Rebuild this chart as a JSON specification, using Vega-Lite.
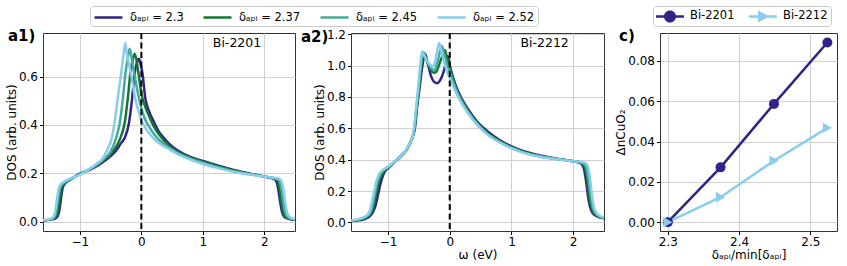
{
"$schema": "https://vega.github.io/schema/vega-lite/v6.json",
"padding": {"left": 4, "top": 5, "right": 5, "bottom": 3},
"config": {
 "font": "DejaVu Sans",
 "view": {"stroke": "#333333", "strokeWidth": 1},
 "axis": {"labelFont": "DejaVu Sans", "labelFontSize": 12, "labelColor": "#000", "tickColor": "#000", "tickSize": 3.5, "tickWidth": 1, "labelPadding": 2, "domain": false, "grid": true, "gridColor": "#d0d0d0", "gridWidth": 1, "titleFont": "DejaVu Sans", "titleFontSize": 12, "titleFontWeight": "normal", "titleColor": "#000", "titlePadding": 0},
 "axisX": {"titlePadding": 2},
 "legend": {"labelFont": "DejaVu Sans", "labelFontSize": 11.5, "labelColor": "#000", "strokeColor": "#cccccc", "fillColor": "#ffffff", "cornerRadius": 3, "padding": 3, "columnPadding": 14, "labelOffset": 20},
 "title": {"font": "DejaVu Sans", "fontSize": 15, "fontWeight": "bold", "color": "#000"}
},
"datasets": {
 "a1": [
  {"s":"2.3","w":-1.6,"v":0.005},{"s":"2.3","w":-1.5,"v":0.008},{"s":"2.3","w":-1.42,"v":0.012},{"s":"2.3","w":-1.37,"v":0.02},{"s":"2.3","w":-1.34,"v":0.04},{"s":"2.3","w":-1.32,"v":0.07},{"s":"2.3","w":-1.3,"v":0.11},{"s":"2.3","w":-1.28,"v":0.14},{"s":"2.3","w":-1.25,"v":0.156},{"s":"2.3","w":-1.2,"v":0.168},{"s":"2.3","w":-1.1,"v":0.184},{"s":"2.3","w":-1.0,"v":0.199},{"s":"2.3","w":-0.9,"v":0.209},{"s":"2.3","w":-0.8,"v":0.22},{"s":"2.3","w":-0.7,"v":0.234},{"s":"2.3","w":-0.6,"v":0.251},{"s":"2.3","w":-0.5,"v":0.271},{"s":"2.3","w":-0.4,"v":0.298},{"s":"2.3","w":-0.33,"v":0.325},{"s":"2.3","w":-0.27,"v":0.347},{"s":"2.3","w":-0.2,"v":0.41},{"s":"2.3","w":-0.15,"v":0.51},{"s":"2.3","w":-0.11,"v":0.61},{"s":"2.3","w":-0.07,"v":0.66},{"s":"2.3","w":-0.04,"v":0.674},{"s":"2.3","w":-0.01,"v":0.65},{"s":"2.3","w":0.02,"v":0.61},{"s":"2.3","w":0.065,"v":0.51},{"s":"2.3","w":0.12,"v":0.46},{"s":"2.3","w":0.2,"v":0.415},{"s":"2.3","w":0.28,"v":0.375},{"s":"2.3","w":0.365,"v":0.347},{"s":"2.3","w":0.45,"v":0.323},{"s":"2.3","w":0.6,"v":0.293},{"s":"2.3","w":0.8,"v":0.268},{"s":"2.3","w":1.0,"v":0.251},{"s":"2.3","w":1.2,"v":0.236},{"s":"2.3","w":1.5,"v":0.214},{"s":"2.3","w":1.8,"v":0.197},{"s":"2.3","w":2.0,"v":0.187},{"s":"2.3","w":2.1,"v":0.182},{"s":"2.3","w":2.16,"v":0.177},{"s":"2.3","w":2.2,"v":0.165},{"s":"2.3","w":2.23,"v":0.13},{"s":"2.3","w":2.26,"v":0.08},{"s":"2.3","w":2.29,"v":0.04},{"s":"2.3","w":2.33,"v":0.02},{"s":"2.3","w":2.4,"v":0.012},{"s":"2.3","w":2.5,"v":0.007},
  {"s":"2.37","w":-1.6,"v":0.005},{"s":"2.37","w":-1.5,"v":0.009},{"s":"2.37","w":-1.44,"v":0.013},{"s":"2.37","w":-1.39,"v":0.02},{"s":"2.37","w":-1.36,"v":0.04},{"s":"2.37","w":-1.34,"v":0.07},{"s":"2.37","w":-1.32,"v":0.105},{"s":"2.37","w":-1.3,"v":0.135},{"s":"2.37","w":-1.27,"v":0.152},{"s":"2.37","w":-1.22,"v":0.164},{"s":"2.37","w":-1.1,"v":0.183},{"s":"2.37","w":-1.0,"v":0.197},{"s":"2.37","w":-0.9,"v":0.209},{"s":"2.37","w":-0.8,"v":0.222},{"s":"2.37","w":-0.7,"v":0.238},{"s":"2.37","w":-0.6,"v":0.256},{"s":"2.37","w":-0.5,"v":0.279},{"s":"2.37","w":-0.42,"v":0.305},{"s":"2.37","w":-0.34,"v":0.347},{"s":"2.37","w":-0.27,"v":0.41},{"s":"2.37","w":-0.22,"v":0.51},{"s":"2.37","w":-0.18,"v":0.61},{"s":"2.37","w":-0.14,"v":0.67},{"s":"2.37","w":-0.11,"v":0.694},{"s":"2.37","w":-0.08,"v":0.67},{"s":"2.37","w":-0.05,"v":0.62},{"s":"2.37","w":0.0,"v":0.53},{"s":"2.37","w":0.05,"v":0.485},{"s":"2.37","w":0.12,"v":0.44},{"s":"2.37","w":0.2,"v":0.395},{"s":"2.37","w":0.3,"v":0.357},{"s":"2.37","w":0.45,"v":0.315},{"s":"2.37","w":0.6,"v":0.288},{"s":"2.37","w":0.8,"v":0.265},{"s":"2.37","w":1.0,"v":0.248},{"s":"2.37","w":1.2,"v":0.233},{"s":"2.37","w":1.5,"v":0.212},{"s":"2.37","w":1.8,"v":0.196},{"s":"2.37","w":2.0,"v":0.187},{"s":"2.37","w":2.1,"v":0.182},{"s":"2.37","w":2.18,"v":0.177},{"s":"2.37","w":2.22,"v":0.165},{"s":"2.37","w":2.25,"v":0.13},{"s":"2.37","w":2.28,"v":0.08},{"s":"2.37","w":2.31,"v":0.04},{"s":"2.37","w":2.35,"v":0.02},{"s":"2.37","w":2.42,"v":0.012},{"s":"2.37","w":2.5,"v":0.008},
  {"s":"2.45","w":-1.6,"v":0.006},{"s":"2.45","w":-1.5,"v":0.009},{"s":"2.45","w":-1.45,"v":0.013},{"s":"2.45","w":-1.41,"v":0.022},{"s":"2.45","w":-1.39,"v":0.04},{"s":"2.45","w":-1.37,"v":0.07},{"s":"2.45","w":-1.35,"v":0.105},{"s":"2.45","w":-1.33,"v":0.135},{"s":"2.45","w":-1.3,"v":0.152},{"s":"2.45","w":-1.25,"v":0.163},{"s":"2.45","w":-1.2,"v":0.171},{"s":"2.45","w":-1.1,"v":0.184},{"s":"2.45","w":-1.0,"v":0.196},{"s":"2.45","w":-0.9,"v":0.21},{"s":"2.45","w":-0.8,"v":0.224},{"s":"2.45","w":-0.7,"v":0.241},{"s":"2.45","w":-0.6,"v":0.262},{"s":"2.45","w":-0.5,"v":0.29},{"s":"2.45","w":-0.41,"v":0.347},{"s":"2.45","w":-0.35,"v":0.41},{"s":"2.45","w":-0.3,"v":0.51},{"s":"2.45","w":-0.26,"v":0.61},{"s":"2.45","w":-0.22,"v":0.68},{"s":"2.45","w":-0.19,"v":0.715},{"s":"2.45","w":-0.16,"v":0.68},{"s":"2.45","w":-0.12,"v":0.62},{"s":"2.45","w":-0.07,"v":0.55},{"s":"2.45","w":-0.02,"v":0.49},{"s":"2.45","w":0.05,"v":0.43},{"s":"2.45","w":0.12,"v":0.395},{"s":"2.45","w":0.2,"v":0.365},{"s":"2.45","w":0.3,"v":0.335},{"s":"2.45","w":0.45,"v":0.307},{"s":"2.45","w":0.6,"v":0.283},{"s":"2.45","w":0.8,"v":0.261},{"s":"2.45","w":1.0,"v":0.244},{"s":"2.45","w":1.2,"v":0.229},{"s":"2.45","w":1.5,"v":0.209},{"s":"2.45","w":1.8,"v":0.195},{"s":"2.45","w":2.0,"v":0.187},{"s":"2.45","w":2.12,"v":0.182},{"s":"2.45","w":2.2,"v":0.178},{"s":"2.45","w":2.25,"v":0.168},{"s":"2.45","w":2.28,"v":0.135},{"s":"2.45","w":2.31,"v":0.08},{"s":"2.45","w":2.34,"v":0.04},{"s":"2.45","w":2.38,"v":0.02},{"s":"2.45","w":2.45,"v":0.012},{"s":"2.45","w":2.5,"v":0.009},
  {"s":"2.52","w":-1.6,"v":0.006},{"s":"2.52","w":-1.5,"v":0.01},{"s":"2.52","w":-1.45,"v":0.015},{"s":"2.52","w":-1.42,"v":0.025},{"s":"2.52","w":-1.4,"v":0.045},{"s":"2.52","w":-1.38,"v":0.08},{"s":"2.52","w":-1.36,"v":0.115},{"s":"2.52","w":-1.34,"v":0.14},{"s":"2.52","w":-1.31,"v":0.155},{"s":"2.52","w":-1.26,"v":0.165},{"s":"2.52","w":-1.2,"v":0.173},{"s":"2.52","w":-1.1,"v":0.184},{"s":"2.52","w":-1.0,"v":0.195},{"s":"2.52","w":-0.9,"v":0.21},{"s":"2.52","w":-0.8,"v":0.226},{"s":"2.52","w":-0.7,"v":0.245},{"s":"2.52","w":-0.64,"v":0.258},{"s":"2.52","w":-0.56,"v":0.295},{"s":"2.52","w":-0.48,"v":0.347},{"s":"2.52","w":-0.43,"v":0.42},{"s":"2.52","w":-0.385,"v":0.51},{"s":"2.52","w":-0.33,"v":0.61},{"s":"2.52","w":-0.29,"v":0.69},{"s":"2.52","w":-0.26,"v":0.74},{"s":"2.52","w":-0.24,"v":0.7},{"s":"2.52","w":-0.2,"v":0.65},{"s":"2.52","w":-0.16,"v":0.6},{"s":"2.52","w":-0.1,"v":0.51},{"s":"2.52","w":-0.05,"v":0.46},{"s":"2.52","w":0.0,"v":0.42},{"s":"2.52","w":0.1,"v":0.375},{"s":"2.52","w":0.2,"v":0.345},{"s":"2.52","w":0.3,"v":0.322},{"s":"2.52","w":0.45,"v":0.3},{"s":"2.52","w":0.6,"v":0.279},{"s":"2.52","w":0.8,"v":0.257},{"s":"2.52","w":1.0,"v":0.239},{"s":"2.52","w":1.2,"v":0.225},{"s":"2.52","w":1.5,"v":0.207},{"s":"2.52","w":1.8,"v":0.194},{"s":"2.52","w":2.0,"v":0.187},{"s":"2.52","w":2.15,"v":0.182},{"s":"2.52","w":2.24,"v":0.178},{"s":"2.52","w":2.28,"v":0.168},{"s":"2.52","w":2.31,"v":0.135},{"s":"2.52","w":2.34,"v":0.08},{"s":"2.52","w":2.37,"v":0.04},{"s":"2.52","w":2.41,"v":0.02},{"s":"2.52","w":2.46,"v":0.013},{"s":"2.52","w":2.5,"v":0.01}
 ],
 "a2": [
  {"s":"2.3","w":-1.6,"v":0.008},{"s":"2.3","w":-1.5,"v":0.012},{"s":"2.3","w":-1.4,"v":0.018},{"s":"2.3","w":-1.33,"v":0.03},{"s":"2.3","w":-1.28,"v":0.045},{"s":"2.3","w":-1.24,"v":0.07},{"s":"2.3","w":-1.2,"v":0.11},{"s":"2.3","w":-1.16,"v":0.18},{"s":"2.3","w":-1.12,"v":0.25},{"s":"2.3","w":-1.08,"v":0.3},{"s":"2.3","w":-1.04,"v":0.33},{"s":"2.3","w":-1.0,"v":0.345},{"s":"2.3","w":-0.9,"v":0.382},{"s":"2.3","w":-0.85,"v":0.4},{"s":"2.3","w":-0.8,"v":0.42},{"s":"2.3","w":-0.7,"v":0.462},{"s":"2.3","w":-0.65,"v":0.498},{"s":"2.3","w":-0.6,"v":0.545},{"s":"2.3","w":-0.565,"v":0.6},{"s":"2.3","w":-0.525,"v":0.75},{"s":"2.3","w":-0.485,"v":0.87},{"s":"2.3","w":-0.45,"v":0.98},{"s":"2.3","w":-0.4,"v":1.075},{"s":"2.3","w":-0.36,"v":1.02},{"s":"2.3","w":-0.3,"v":0.93},{"s":"2.3","w":-0.25,"v":0.895},{"s":"2.3","w":-0.2,"v":0.888},{"s":"2.3","w":-0.15,"v":0.91},{"s":"2.3","w":-0.1,"v":0.96},{"s":"2.3","w":-0.06,"v":1.02},{"s":"2.3","w":-0.03,"v":1.06},{"s":"2.3","w":0.0,"v":1.0},{"s":"2.3","w":0.05,"v":0.93},{"s":"2.3","w":0.1,"v":0.87},{"s":"2.3","w":0.2,"v":0.785},{"s":"2.3","w":0.3,"v":0.72},{"s":"2.3","w":0.45,"v":0.64},{"s":"2.3","w":0.6,"v":0.585},{"s":"2.3","w":0.8,"v":0.527},{"s":"2.3","w":1.0,"v":0.485},{"s":"2.3","w":1.2,"v":0.454},{"s":"2.3","w":1.5,"v":0.423},{"s":"2.3","w":1.8,"v":0.402},{"s":"2.3","w":2.0,"v":0.39},{"s":"2.3","w":2.1,"v":0.381},{"s":"2.3","w":2.14,"v":0.37},{"s":"2.3","w":2.18,"v":0.335},{"s":"2.3","w":2.21,"v":0.26},{"s":"2.3","w":2.24,"v":0.17},{"s":"2.3","w":2.27,"v":0.105},{"s":"2.3","w":2.31,"v":0.062},{"s":"2.3","w":2.38,"v":0.04},{"s":"2.3","w":2.45,"v":0.03},{"s":"2.3","w":2.5,"v":0.025},
  {"s":"2.37","w":-1.6,"v":0.01},{"s":"2.37","w":-1.5,"v":0.015},{"s":"2.37","w":-1.41,"v":0.022},{"s":"2.37","w":-1.34,"v":0.035},{"s":"2.37","w":-1.29,"v":0.05},{"s":"2.37","w":-1.25,"v":0.08},{"s":"2.37","w":-1.22,"v":0.125},{"s":"2.37","w":-1.19,"v":0.185},{"s":"2.37","w":-1.15,"v":0.255},{"s":"2.37","w":-1.1,"v":0.305},{"s":"2.37","w":-1.05,"v":0.333},{"s":"2.37","w":-1.0,"v":0.35},{"s":"2.37","w":-0.9,"v":0.384},{"s":"2.37","w":-0.85,"v":0.401},{"s":"2.37","w":-0.8,"v":0.42},{"s":"2.37","w":-0.7,"v":0.463},{"s":"2.37","w":-0.65,"v":0.5},{"s":"2.37","w":-0.6,"v":0.547},{"s":"2.37","w":-0.57,"v":0.6},{"s":"2.37","w":-0.53,"v":0.75},{"s":"2.37","w":-0.49,"v":0.87},{"s":"2.37","w":-0.46,"v":0.99},{"s":"2.37","w":-0.42,"v":1.08},{"s":"2.37","w":-0.38,"v":1.04},{"s":"2.37","w":-0.32,"v":0.98},{"s":"2.37","w":-0.26,"v":0.955},{"s":"2.37","w":-0.22,"v":0.96},{"s":"2.37","w":-0.16,"v":1.02},{"s":"2.37","w":-0.1,"v":1.08},{"s":"2.37","w":-0.08,"v":1.1},{"s":"2.37","w":-0.05,"v":1.06},{"s":"2.37","w":0.0,"v":0.99},{"s":"2.37","w":0.1,"v":0.86},{"s":"2.37","w":0.2,"v":0.775},{"s":"2.37","w":0.3,"v":0.71},{"s":"2.37","w":0.45,"v":0.633},{"s":"2.37","w":0.6,"v":0.575},{"s":"2.37","w":0.8,"v":0.52},{"s":"2.37","w":1.0,"v":0.48},{"s":"2.37","w":1.2,"v":0.449},{"s":"2.37","w":1.5,"v":0.42},{"s":"2.37","w":1.8,"v":0.401},{"s":"2.37","w":2.0,"v":0.39},{"s":"2.37","w":2.11,"v":0.382},{"s":"2.37","w":2.16,"v":0.37},{"s":"2.37","w":2.2,"v":0.335},{"s":"2.37","w":2.23,"v":0.26},{"s":"2.37","w":2.26,"v":0.17},{"s":"2.37","w":2.29,"v":0.105},{"s":"2.37","w":2.33,"v":0.062},{"s":"2.37","w":2.4,"v":0.04},{"s":"2.37","w":2.5,"v":0.027},
  {"s":"2.45","w":-1.6,"v":0.011},{"s":"2.45","w":-1.5,"v":0.016},{"s":"2.45","w":-1.42,"v":0.025},{"s":"2.45","w":-1.35,"v":0.038},{"s":"2.45","w":-1.3,"v":0.055},{"s":"2.45","w":-1.27,"v":0.08},{"s":"2.45","w":-1.24,"v":0.13},{"s":"2.45","w":-1.21,"v":0.19},{"s":"2.45","w":-1.17,"v":0.26},{"s":"2.45","w":-1.12,"v":0.31},{"s":"2.45","w":-1.06,"v":0.335},{"s":"2.45","w":-1.0,"v":0.352},{"s":"2.45","w":-0.9,"v":0.384},{"s":"2.45","w":-0.85,"v":0.401},{"s":"2.45","w":-0.8,"v":0.42},{"s":"2.45","w":-0.7,"v":0.464},{"s":"2.45","w":-0.65,"v":0.5},{"s":"2.45","w":-0.6,"v":0.548},{"s":"2.45","w":-0.575,"v":0.6},{"s":"2.45","w":-0.535,"v":0.75},{"s":"2.45","w":-0.5,"v":0.87},{"s":"2.45","w":-0.47,"v":0.99},{"s":"2.45","w":-0.43,"v":1.085},{"s":"2.45","w":-0.39,"v":1.05},{"s":"2.45","w":-0.33,"v":1.0},{"s":"2.45","w":-0.28,"v":0.975},{"s":"2.45","w":-0.25,"v":0.97},{"s":"2.45","w":-0.2,"v":1.02},{"s":"2.45","w":-0.15,"v":1.1},{"s":"2.45","w":-0.13,"v":1.125},{"s":"2.45","w":-0.1,"v":1.09},{"s":"2.45","w":-0.05,"v":1.02},{"s":"2.45","w":0.0,"v":0.96},{"s":"2.45","w":0.1,"v":0.85},{"s":"2.45","w":0.2,"v":0.768},{"s":"2.45","w":0.3,"v":0.703},{"s":"2.45","w":0.45,"v":0.627},{"s":"2.45","w":0.6,"v":0.569},{"s":"2.45","w":0.8,"v":0.516},{"s":"2.45","w":1.0,"v":0.476},{"s":"2.45","w":1.2,"v":0.446},{"s":"2.45","w":1.5,"v":0.418},{"s":"2.45","w":1.8,"v":0.401},{"s":"2.45","w":2.0,"v":0.39},{"s":"2.45","w":2.13,"v":0.382},{"s":"2.45","w":2.18,"v":0.372},{"s":"2.45","w":2.22,"v":0.34},{"s":"2.45","w":2.25,"v":0.27},{"s":"2.45","w":2.28,"v":0.18},{"s":"2.45","w":2.31,"v":0.11},{"s":"2.45","w":2.35,"v":0.065},{"s":"2.45","w":2.42,"v":0.04},{"s":"2.45","w":2.5,"v":0.028},
  {"s":"2.52","w":-1.6,"v":0.012},{"s":"2.52","w":-1.5,"v":0.018},{"s":"2.52","w":-1.42,"v":0.028},{"s":"2.52","w":-1.36,"v":0.04},{"s":"2.52","w":-1.32,"v":0.055},{"s":"2.52","w":-1.29,"v":0.08},{"s":"2.52","w":-1.26,"v":0.13},{"s":"2.52","w":-1.23,"v":0.19},{"s":"2.52","w":-1.19,"v":0.26},{"s":"2.52","w":-1.14,"v":0.31},{"s":"2.52","w":-1.08,"v":0.335},{"s":"2.52","w":-1.0,"v":0.355},{"s":"2.52","w":-0.9,"v":0.385},{"s":"2.52","w":-0.85,"v":0.402},{"s":"2.52","w":-0.8,"v":0.42},{"s":"2.52","w":-0.7,"v":0.465},{"s":"2.52","w":-0.65,"v":0.5},{"s":"2.52","w":-0.6,"v":0.55},{"s":"2.52","w":-0.58,"v":0.6},{"s":"2.52","w":-0.54,"v":0.75},{"s":"2.52","w":-0.51,"v":0.87},{"s":"2.52","w":-0.48,"v":0.99},{"s":"2.52","w":-0.45,"v":1.09},{"s":"2.52","w":-0.41,"v":1.06},{"s":"2.52","w":-0.35,"v":1.02},{"s":"2.52","w":-0.3,"v":1.0},{"s":"2.52","w":-0.27,"v":0.995},{"s":"2.52","w":-0.23,"v":1.04},{"s":"2.52","w":-0.19,"v":1.12},{"s":"2.52","w":-0.17,"v":1.145},{"s":"2.52","w":-0.14,"v":1.1},{"s":"2.52","w":-0.1,"v":1.04},{"s":"2.52","w":-0.05,"v":0.97},{"s":"2.52","w":0.0,"v":0.92},{"s":"2.52","w":0.1,"v":0.83},{"s":"2.52","w":0.2,"v":0.755},{"s":"2.52","w":0.3,"v":0.695},{"s":"2.52","w":0.45,"v":0.62},{"s":"2.52","w":0.6,"v":0.563},{"s":"2.52","w":0.8,"v":0.512},{"s":"2.52","w":1.0,"v":0.473},{"s":"2.52","w":1.2,"v":0.443},{"s":"2.52","w":1.5,"v":0.416},{"s":"2.52","w":1.8,"v":0.4},{"s":"2.52","w":2.0,"v":0.39},{"s":"2.52","w":2.15,"v":0.383},{"s":"2.52","w":2.2,"v":0.378},{"s":"2.52","w":2.24,"v":0.355},{"s":"2.52","w":2.27,"v":0.29},{"s":"2.52","w":2.3,"v":0.19},{"s":"2.52","w":2.33,"v":0.11},{"s":"2.52","w":2.37,"v":0.065},{"s":"2.52","w":2.43,"v":0.042},{"s":"2.52","w":2.5,"v":0.03}
 ],
 "c": [
  {"sample":"Bi-2201","x":2.3,"y":0.0},{"sample":"Bi-2201","x":2.374,"y":0.0272},{"sample":"Bi-2201","x":2.449,"y":0.0587},{"sample":"Bi-2201","x":2.524,"y":0.0892},
  {"sample":"Bi-2212","x":2.3,"y":0.0},{"sample":"Bi-2212","x":2.374,"y":0.0124},{"sample":"Bi-2212","x":2.449,"y":0.0305},{"sample":"Bi-2212","x":2.524,"y":0.0468}
 ]
},
"resolve": {"scale": {"color": "independent", "shape": "independent"}, "legend": {"color": "independent", "shape": "independent"}},
"spacing": 56,
"bounds": "flush",
"hconcat": [
 {
  "width": 252, "height": 198,
  "title": {"text": "a1)", "anchor": "start", "frame": "group", "dx": -35, "dy": 50, "offset": 0, "baseline": "alphabetic"},
  "layer": [
   {"data": {"name": "a1"}, "mark": {"type": "line", "strokeWidth": 2.5, "interpolate": "monotone"},
    "encoding": {
     "x": {"field": "w", "type": "quantitative", "scale": {"domain": [-1.6, 2.5], "nice": false, "zero": false}, "axis": {"values": [-1, 0, 1, 2], "format": "d", "title": null}},
     "y": {"field": "v", "type": "quantitative", "scale": {"domain": [-0.038, 0.78], "nice": false, "zero": false}, "axis": {"values": [0, 0.2, 0.4, 0.6], "format": ".1f", "title": "DOS (arb. units)"}},
     "color": {"field": "s", "type": "nominal", "scale": {"domain": ["2.3", "2.37", "2.45", "2.52"], "range": ["#332288", "#117733", "#44AA99", "#88CCEE"]},
      "legend": {"orient": "none", "legendX": 47, "legendY": -27, "direction": "horizontal", "title": null, "symbolType": "M-1,0L3,0", "symbolSize": 196, "symbolStrokeWidth": 2.5, "labelExpr": "'δₐₚᵢ = ' + datum.label"}}
    }},
   {"data": {"values": [{}]}, "mark": {"type": "rule", "strokeDash": [6, 3.5], "strokeWidth": 2, "color": "#000"}, "encoding": {"x": {"datum": 0}}},
   {"data": {"values": [{}]}, "mark": {"type": "text", "align": "right", "baseline": "middle", "fontSize": 12.5, "color": "#000"}, "encoding": {"x": {"datum": 1.95}, "y": {"datum": 0.738}, "text": {"value": "Bi-2201"}}}
  ]
 },
 {
  "width": 253, "height": 198,
  "title": {"text": "a2)", "anchor": "start", "frame": "group", "dx": -50, "dy": 29, "offset": 0, "baseline": "alphabetic"},
  "layer": [
   {"data": {"name": "a2"}, "mark": {"type": "line", "strokeWidth": 2.5, "interpolate": "monotone"},
    "encoding": {
     "x": {"field": "w", "type": "quantitative", "scale": {"domain": [-1.6, 2.5], "nice": false, "zero": false}, "axis": {"values": [-1, 0, 1, 2], "format": "d", "title": "ω (eV)"}},
     "y": {"field": "v", "type": "quantitative", "scale": {"domain": [-0.055, 1.208], "nice": false, "zero": false}, "axis": {"tickCount": 7, "format": ".1f", "title": "DOS (arb. units)", "labelOverlap": false}},
     "color": {"field": "s", "type": "nominal", "scale": {"domain": ["2.3", "2.37", "2.45", "2.52"], "range": ["#332288", "#117733", "#44AA99", "#88CCEE"]}, "legend": null}
    }},
   {"data": {"values": [{}]}, "mark": {"type": "rule", "strokeDash": [6, 3.5], "strokeWidth": 2, "color": "#000"}, "encoding": {"x": {"datum": 0}}},
   {"data": {"values": [{}]}, "mark": {"type": "text", "align": "right", "baseline": "middle", "fontSize": 12.5, "color": "#000"}, "encoding": {"x": {"datum": 1.93}, "y": {"datum": 1.142}, "text": {"value": "Bi-2212"}}}
  ]
 },
 {
  "width": 177, "height": 198,
  "title": {"text": "c)", "anchor": "start", "frame": "group", "dx": -41, "dy": 50, "offset": 0, "baseline": "alphabetic"},
  "data": {"name": "c"},
  "encoding": {
   "x": {"field": "x", "type": "quantitative", "scale": {"domain": [2.289, 2.5375], "nice": false, "zero": false}, "axis": {"values": [2.3, 2.4, 2.5], "format": ".1f", "title": "δₐₚᵢ/min[δₐₚᵢ]"}},
   "y": {"field": "y", "type": "quantitative", "scale": {"domain": [-0.0044, 0.0939], "nice": false, "zero": false}, "axis": {"values": [0, 0.02, 0.04, 0.06, 0.08], "format": ".2f", "title": "ΔnCuO₂"}}
  },
  "layer": [
   {"transform": [{"filter": "false"}], "mark": {"type": "point", "filled": true, "opacity": 1},
    "encoding": {
     "color": {"field": "sample", "type": "nominal", "scale": {"domain": ["Bi-2201", "Bi-2212"], "range": ["#332288", "#88CCEE"]},
      "legend": {"orient": "none", "legendX": -7, "legendY": -27, "direction": "horizontal", "title": null, "symbolSize": 196, "symbolStrokeWidth": 0, "symbolOpacity": 1, "labelOffset": 20, "columnPadding": 14}},
     "shape": {"field": "sample", "type": "nominal", "scale": {"domain": ["Bi-2201", "Bi-2212"], "range": ["M-1,-0.18L3,-0.18L3,0.18L-1,0.18Z M0.14,0A0.86,0.86 0 1,1 1.86,0A0.86,0.86 0 1,1 0.14,0Z", "M-1,-0.18L3,-0.18L3,0.18L-1,0.18Z M0.3,-0.86L1.9,0L0.3,0.86Z"]},
      "legend": {"orient": "none", "legendX": -7, "legendY": -27, "direction": "horizontal", "title": null, "symbolSize": 196, "symbolStrokeWidth": 0, "symbolOpacity": 1, "labelOffset": 20, "columnPadding": 14}}
    }},
   {"mark": {"type": "line", "strokeWidth": 2.5},
    "encoding": {"color": {"field": "sample", "type": "nominal"}}},
   {"transform": [{"filter": "datum.sample === 'Bi-2201'"}], "mark": {"type": "point", "filled": true, "size": 100, "opacity": 1, "shape": "circle"},
    "encoding": {"color": {"field": "sample", "type": "nominal"}}},
   {"transform": [{"filter": "datum.sample === 'Bi-2212'"}], "mark": {"type": "point", "filled": true, "size": 110, "opacity": 1, "shape": "triangle-right"},
    "encoding": {"color": {"field": "sample", "type": "nominal"}}}
  ]
 }
]
}
